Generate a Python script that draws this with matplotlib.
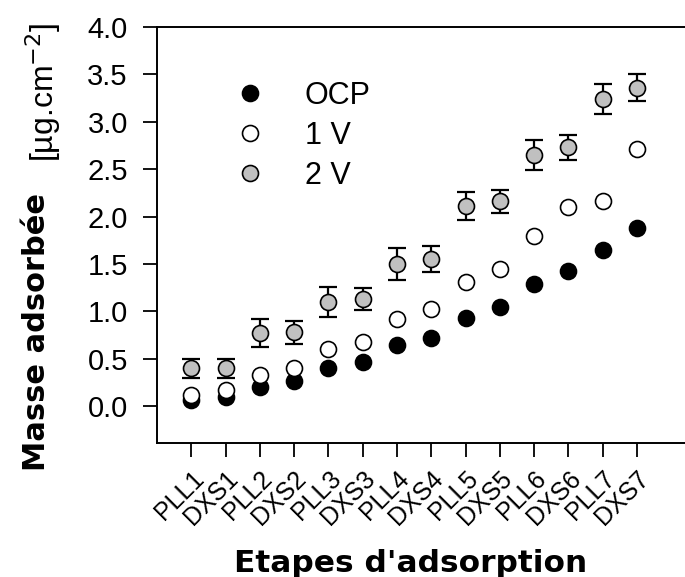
import matplotlib.pyplot as plt
import numpy as np

etapes = ['PLL1', 'DXS1', 'PLL2', 'DXS2', 'PLL3', 'DXS3', 'PLL4',
          'DXS4', 'PLL5', 'DXS5', 'PLL6', 'DXS6', 'PLL7', 'DXS7']
ocp = [0.06, 0.10, 0.20, 0.26, 0.40, 0.47, 0.64, 0.72, 0.93, 1.04, 1.29, 1.42, 1.65, 1.88]
v1 = [0.12, 0.17, 0.33, 0.40, 0.60, 0.68, 0.92, 1.02, 1.31, 1.45, 1.79, 2.10, 2.16, 2.71]
v2 = [0.40, 0.40, 0.77, 0.78, 1.10, 1.13, 1.50, 1.55, 2.11, 2.16, 2.65, 2.73, 3.24, 3.36]
v2_err = [0.10, 0.10, 0.15, 0.12, 0.16, 0.12, 0.17, 0.135, 0.145, 0.12, 0.155, 0.13, 0.16, 0.14]

plt.rcParams['font.family'] = ['Liberation Sans', 'DejaVu Sans']

fig = plt.figure(figsize=(6.85, 5.77), dpi=100)
ax = fig.add_axes([157 / 685, 1 - 443 / 577, 1 - 157 / 685, (443 - 27) / 577])

x = np.arange(1, len(etapes) + 1)
ms = 11.5
ax.plot(x, ocp, 'o', ms=ms, mfc='black', mec='black', mew=1.2, label='OCP', zorder=3)
ax.plot(x, v1, 'o', ms=ms, mfc='white', mec='black', mew=1.2, label='1 V', zorder=4)
ax.errorbar(x, v2, yerr=v2_err, fmt='none', ecolor='black', elinewidth=1.6,
            capsize=6.2, capthick=1.6, zorder=5)
ax.plot(x, v2, 'o', ms=ms, mfc='#c0c0c0', mec='black', mew=1.2, label='2 V', zorder=6)

ax.set_xlim(0, 15.4)
ax.set_ylim(-0.39, 4.0)
yt = np.arange(0, 4.01, 0.5)
ax.set_yticks(yt)
ax.set_yticklabels([f'{v:.1f}' for v in yt], fontsize=21)
ax.set_xticks(x)
ax.set_xticklabels(etapes, rotation=45, ha='right', rotation_mode='anchor', fontsize=18)
ax.tick_params(direction='out', length=10, width=1.3)
ax.tick_params(axis='y', pad=11)
ax.tick_params(axis='x', pad=7)
for s in ['left', 'bottom', 'top']:
    ax.spines[s].set_linewidth(1.4)
ax.spines['right'].set_visible(False)

ax.legend(loc='upper left', bbox_to_anchor=(0.119, 0.908), frameon=False, fontsize=22,
          borderpad=0, handletextpad=1.28, labelspacing=0.33, handlelength=1.0)

fig.text(411 / 685, 1 - 572 / 577, "Etapes d'adsorption", fontsize=22.5,
         fontweight='bold', family='DejaVu Sans', ha='center', va='baseline')
fig.text(37 / 685, 1 - 332 / 577, 'Masse adsorbée', fontsize=22, fontweight='bold',
         family='DejaVu Sans', rotation=90, ha='center', va='center')
fig.text(43 / 685, 1 - 92 / 577, r'[µg.cm$^{-2}$]', fontsize=23,
         rotation=90, ha='center', va='center')

fig.savefig('out.png', dpi=100)
